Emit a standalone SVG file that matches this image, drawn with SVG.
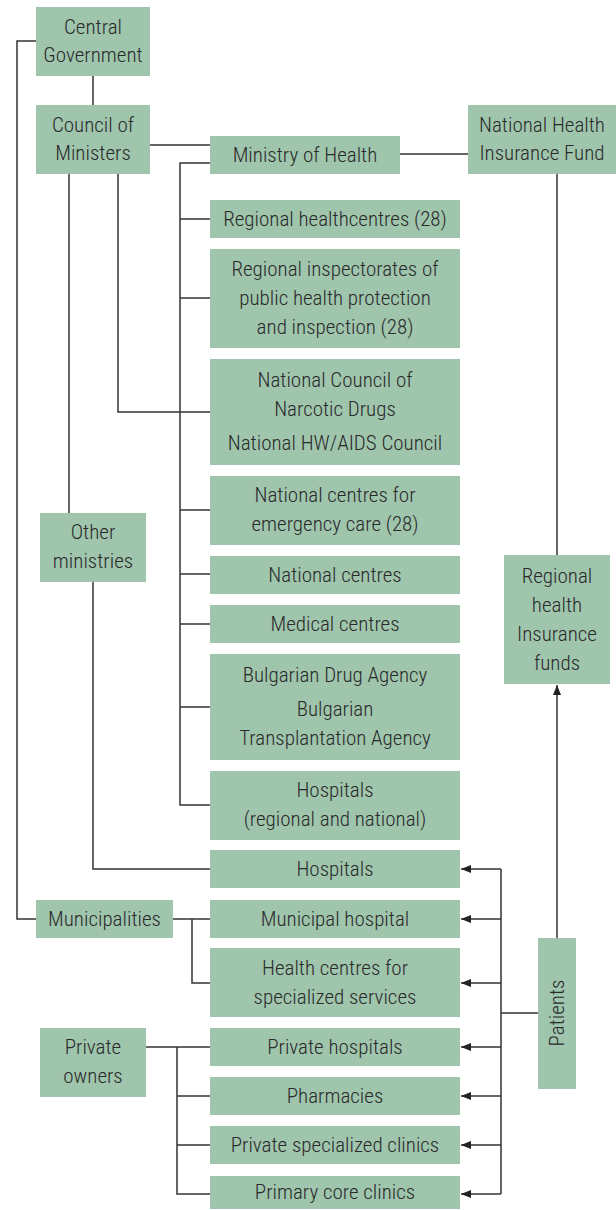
<svg xmlns="http://www.w3.org/2000/svg" width="616" height="1210" viewBox="0 0 616 1210">
<style>
.b{fill:#9fc5ad}
.t{font-family:"Roboto Condensed","Liberation Sans Narrow","Liberation Sans",sans-serif;font-weight:300;font-size:21px;fill:#2a2a2a;text-anchor:middle}
.c{fill:none;stroke:#333;stroke-width:1.5}
</style>
<defs>
<marker id="ah" viewBox="0 0 10 8" refX="10" refY="4" markerWidth="10" markerHeight="8" markerUnits="userSpaceOnUse" orient="auto"><path d="M0,0L10,4L0,8Z" fill="#222"/></marker>
</defs>
<g id="connectors">
<path class="c" d="M36,41H17V919H36"/>
<path class="c" d="M93,76V105"/>
<path class="c" d="M150,145H210"/>
<path class="c" d="M400,154H468"/>
<path class="c" d="M69,174V513"/>
<path class="c" d="M118,174V412H210"/>
<path class="c" d="M210,163H180V805H210"/>
<path class="c" d="M180,219H210M180,298H210M180,510H210M180,574H210M180,624H210M180,707H210"/>
<path class="c" d="M557,174V555"/>
<path class="c" d="M93,582V869H210"/>
<path class="c" d="M173,919H210M192,919V983H210"/>
<path class="c" d="M146,1047H210M177,1047V1194H210M177,1096H210M177,1145H210"/>
<path class="c" d="M538,1013H501M501,869V1194"/>
<path class="c" d="M501,869H461" marker-end="url(#ah)"/>
<path class="c" d="M501,919H461" marker-end="url(#ah)"/>
<path class="c" d="M501,983H461" marker-end="url(#ah)"/>
<path class="c" d="M501,1047H461" marker-end="url(#ah)"/>
<path class="c" d="M501,1096H461" marker-end="url(#ah)"/>
<path class="c" d="M501,1145H461" marker-end="url(#ah)"/>
<path class="c" d="M501,1194H461" marker-end="url(#ah)"/>
<path class="c" d="M557,938V685" marker-end="url(#ah)"/>
</g>
<g id="central-government"><rect class="b" x="36" y="7" width="114" height="69"/><text class="t" x="93" y="34">Central</text><text class="t" x="93" y="62">Government</text></g>
<g id="council-of-ministers"><rect class="b" x="36" y="105" width="114" height="69"/><text class="t" x="93" y="132">Council of</text><text class="t" x="93" y="160">Ministers</text></g>
<g id="ministry-of-health"><rect class="b" x="210" y="136" width="190" height="38"/><text class="t" x="305" y="162">Ministry of Health</text></g>
<g id="nhif"><rect class="b" x="468" y="105" width="148" height="69"/><text class="t" x="542" y="132">National Health</text><text class="t" x="542" y="160">Insurance Fund</text></g>
<g id="regional-healthcentres"><rect class="b" x="210" y="200" width="250" height="38"/><text class="t" x="335" y="226">Regional healthcentres (28)</text></g>
<g id="regional-inspectorates"><rect class="b" x="210" y="249" width="250" height="99"/><text class="t" x="335" y="276">Regional inspectorates of</text><text class="t" x="335" y="305">public health protection</text><text class="t" x="335" y="334">and inspection (28)</text></g>
<g id="national-council"><rect class="b" x="210" y="359" width="250" height="106"/><text class="t" x="335" y="387">National Council of</text><text class="t" x="335" y="416">Narcotic Drugs</text><text class="t" x="335" y="450">National HW/AIDS Council</text></g>
<g id="emergency-care"><rect class="b" x="210" y="476" width="250" height="69"/><text class="t" x="335" y="502">National centres for</text><text class="t" x="335" y="531">emergency care (28)</text></g>
<g id="other-ministries"><rect class="b" x="40" y="513" width="106" height="69"/><text class="t" x="93" y="539">Other</text><text class="t" x="93" y="568">ministries</text></g>
<g id="national-centres"><rect class="b" x="210" y="556" width="250" height="38"/><text class="t" x="335" y="582">National centres</text></g>
<g id="medical-centres"><rect class="b" x="210" y="605" width="250" height="38"/><text class="t" x="335" y="631">Medical centres</text></g>
<g id="drug-agency"><rect class="b" x="210" y="654" width="250" height="106"/><text class="t" x="335" y="682">Bulgarian Drug Agency</text><text class="t" x="335" y="716">Bulgarian</text><text class="t" x="335" y="745">Transplantation Agency</text></g>
<g id="regional-funds"><rect class="b" x="504" y="555" width="106" height="129"/><text class="t" x="557" y="583">Regional</text><text class="t" x="557" y="612">health</text><text class="t" x="557" y="641">Insurance</text><text class="t" x="557" y="670">funds</text></g>
<g id="hospitals-regional"><rect class="b" x="210" y="771" width="250" height="69"/><text class="t" x="335" y="797">Hospitals</text><text class="t" x="335" y="826">(regional and national)</text></g>
<g id="hospitals"><rect class="b" x="210" y="850" width="250" height="38"/><text class="t" x="335" y="876">Hospitals</text></g>
<g id="municipalities"><rect class="b" x="36" y="900" width="137" height="38"/><text class="t" x="104.5" y="926">Municipalities</text></g>
<g id="municipal-hospital"><rect class="b" x="210" y="900" width="250" height="38"/><text class="t" x="335" y="926">Municipal hospital</text></g>
<g id="health-centres"><rect class="b" x="210" y="948" width="250" height="69"/><text class="t" x="335" y="975">Health centres for</text><text class="t" x="335" y="1004">specialized services</text></g>
<g id="patients"><rect class="b" x="538" y="938" width="38" height="151"/><text class="t" transform="translate(557,1013) rotate(-90)" x="0" y="7">Patients</text></g>
<g id="private-owners"><rect class="b" x="40" y="1028" width="106" height="69"/><text class="t" x="93" y="1054">Private</text><text class="t" x="93" y="1083">owners</text></g>
<g id="private-hospitals"><rect class="b" x="210" y="1028" width="250" height="38"/><text class="t" x="335" y="1054">Private hospitals</text></g>
<g id="pharmacies"><rect class="b" x="210" y="1077" width="250" height="38"/><text class="t" x="335" y="1103">Pharmacies</text></g>
<g id="private-clinics"><rect class="b" x="210" y="1126" width="250" height="38"/><text class="t" x="335" y="1152">Private specialized clinics</text></g>
<g id="primary-clinics"><rect class="b" x="210" y="1176" width="250" height="33"/><text class="t" x="335" y="1199">Primary core clinics</text></g>
</svg>
